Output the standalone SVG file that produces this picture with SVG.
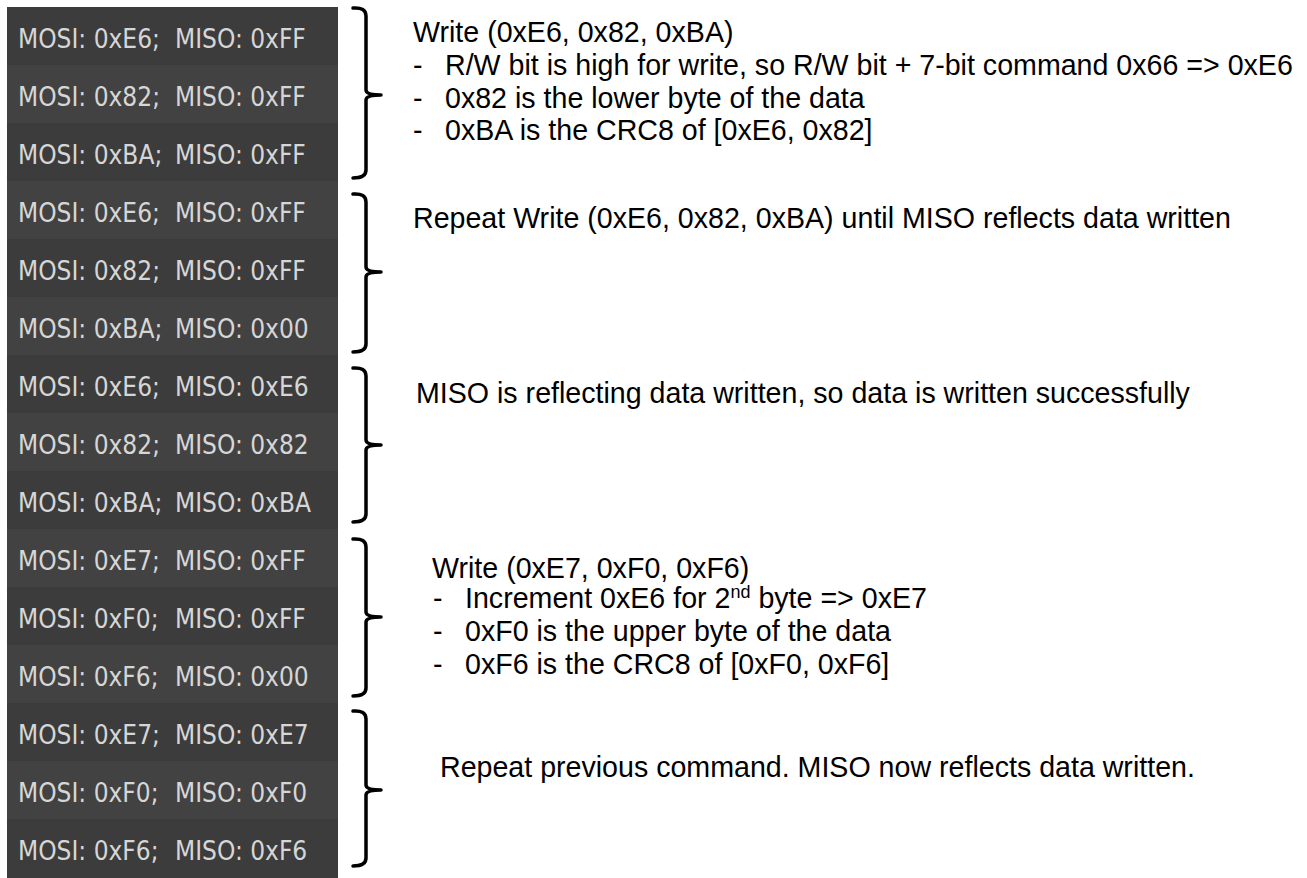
<svg xmlns="http://www.w3.org/2000/svg" width="1307" height="878" viewBox="0 0 1307 878">
<style>
.bg{fill:#ffffff}
.rowA{fill:#3c3c3c}
.rowB{fill:#424242}
.lcd{font-family:"DejaVu Sans Condensed","DejaVu Sans",sans-serif;font-stretch:condensed;font-size:26px;fill:#d6d6d6}
.note{font-family:"Liberation Sans",Arial,sans-serif;font-size:28.6px;fill:#000000}
.brace{fill:none;stroke:#000000;stroke-width:3.5;stroke-linecap:round;stroke-linejoin:round}
</style>
<rect class="bg" x="0" y="0" width="1307" height="878"/>
<g id="panel">
<rect x="7" y="7" width="331" height="871" fill="#3f3f3f"/>
<g id="row-1"><rect class="rowA" x="7" y="7" width="331" height="58"/><text class="lcd" x="18" y="48">MOSI: 0xE6;</text><text class="lcd" x="175" y="48">MISO: 0xFF</text></g>
<g id="row-2"><rect class="rowB" x="7" y="65" width="331" height="58"/><text class="lcd" x="18" y="106">MOSI: 0x82;</text><text class="lcd" x="175" y="106">MISO: 0xFF</text></g>
<g id="row-3"><rect class="rowA" x="7" y="123" width="331" height="58"/><text class="lcd" x="18" y="164">MOSI: 0xBA;</text><text class="lcd" x="175" y="164">MISO: 0xFF</text></g>
<g id="row-4"><rect class="rowB" x="7" y="181" width="331" height="58"/><text class="lcd" x="18" y="222">MOSI: 0xE6;</text><text class="lcd" x="175" y="222">MISO: 0xFF</text></g>
<g id="row-5"><rect class="rowA" x="7" y="239" width="331" height="58"/><text class="lcd" x="18" y="280">MOSI: 0x82;</text><text class="lcd" x="175" y="280">MISO: 0xFF</text></g>
<g id="row-6"><rect class="rowB" x="7" y="297" width="331" height="58"/><text class="lcd" x="18" y="338">MOSI: 0xBA;</text><text class="lcd" x="175" y="338">MISO: 0x00</text></g>
<g id="row-7"><rect class="rowA" x="7" y="355" width="331" height="58"/><text class="lcd" x="18" y="396">MOSI: 0xE6;</text><text class="lcd" x="175" y="396">MISO: 0xE6</text></g>
<g id="row-8"><rect class="rowB" x="7" y="413" width="331" height="58"/><text class="lcd" x="18" y="454">MOSI: 0x82;</text><text class="lcd" x="175" y="454">MISO: 0x82</text></g>
<g id="row-9"><rect class="rowA" x="7" y="471" width="331" height="58"/><text class="lcd" x="18" y="512">MOSI: 0xBA;</text><text class="lcd" x="175" y="512">MISO: 0xBA</text></g>
<g id="row-10"><rect class="rowB" x="7" y="529" width="331" height="58"/><text class="lcd" x="18" y="570">MOSI: 0xE7;</text><text class="lcd" x="175" y="570">MISO: 0xFF</text></g>
<g id="row-11"><rect class="rowA" x="7" y="587" width="331" height="58"/><text class="lcd" x="18" y="628">MOSI: 0xF0;</text><text class="lcd" x="175" y="628">MISO: 0xFF</text></g>
<g id="row-12"><rect class="rowB" x="7" y="645" width="331" height="58"/><text class="lcd" x="18" y="686">MOSI: 0xF6;</text><text class="lcd" x="175" y="686">MISO: 0x00</text></g>
<g id="row-13"><rect class="rowA" x="7" y="703" width="331" height="58"/><text class="lcd" x="18" y="744">MOSI: 0xE7;</text><text class="lcd" x="175" y="744">MISO: 0xE7</text></g>
<g id="row-14"><rect class="rowB" x="7" y="761" width="331" height="58"/><text class="lcd" x="18" y="802">MOSI: 0xF0;</text><text class="lcd" x="175" y="802">MISO: 0xF0</text></g>
<g id="row-15"><rect class="rowA" x="7" y="819" width="331" height="59"/><text class="lcd" x="18" y="860">MOSI: 0xF6;</text><text class="lcd" x="175" y="860">MISO: 0xF6</text></g>
</g>
<g id="connectors">
<path class="brace" d="M353,8 Q366,7 366,16 L366,90 Q366,95 381,95 M381,95 Q366,95 366,100 L366,170 Q366,178 353,178"/>
<path class="brace" d="M353,194 Q366,193 366,202 L366,267 Q366,272 381,272 M381,272 Q366,272 366,277 L366,344 Q366,352 353,352"/>
<path class="brace" d="M353,368 Q366,367 366,376 L366,440 Q366,445 381,445 M381,445 Q366,445 366,450 L366,514 Q366,522 353,522"/>
<path class="brace" d="M353,539 Q366,538 366,547 L366,612 Q366,617 381,617 M381,617 Q366,617 366,622 L366,688 Q366,696 353,696"/>
<path class="brace" d="M353,711 Q366,710 366,719 L366,785 Q366,790 381,790 M381,790 Q366,790 366,795 L366,858 Q366,866 353,866"/>
</g>
<g id="note-1">
<text class="note" x="413" y="42">Write (0xE6, 0x82, 0xBA)</text>
<text class="note" x="413" y="75">-</text><text class="note" x="445" y="75">R/W bit is high for write, so R/W bit + 7-bit command 0x66 =&gt; 0xE6</text>
<text class="note" x="413" y="108">-</text><text class="note" x="445" y="108">0x82 is the lower byte of the data</text>
<text class="note" x="413" y="140">-</text><text class="note" x="445" y="140">0xBA is the CRC8 of [0xE6, 0x82]</text>
</g>
<g id="note-2">
<text class="note" x="413" y="228">Repeat Write (0xE6, 0x82, 0xBA) until MISO reflects data written</text>
</g>
<g id="note-3">
<text class="note" x="416" y="403">MISO is reflecting data written, so data is written successfully</text>
</g>
<g id="note-4">
<text class="note" x="432" y="578">Write (0xE7, 0xF0, 0xF6)</text>
<text class="note" x="433" y="608">-</text><text class="note" x="465" y="608">Increment 0xE6 for 2<tspan font-size="18" dy="-10">nd</tspan><tspan dy="10"> byte =&gt; 0xE7</tspan></text>
<text class="note" x="433" y="641">-</text><text class="note" x="465" y="641">0xF0 is the upper byte of the data</text>
<text class="note" x="433" y="674">-</text><text class="note" x="465" y="674">0xF6 is the CRC8 of [0xF0, 0xF6]</text>
</g>
<g id="note-5">
<text class="note" x="440" y="777">Repeat previous command. MISO now reflects data written.</text>
</g>
</svg>
